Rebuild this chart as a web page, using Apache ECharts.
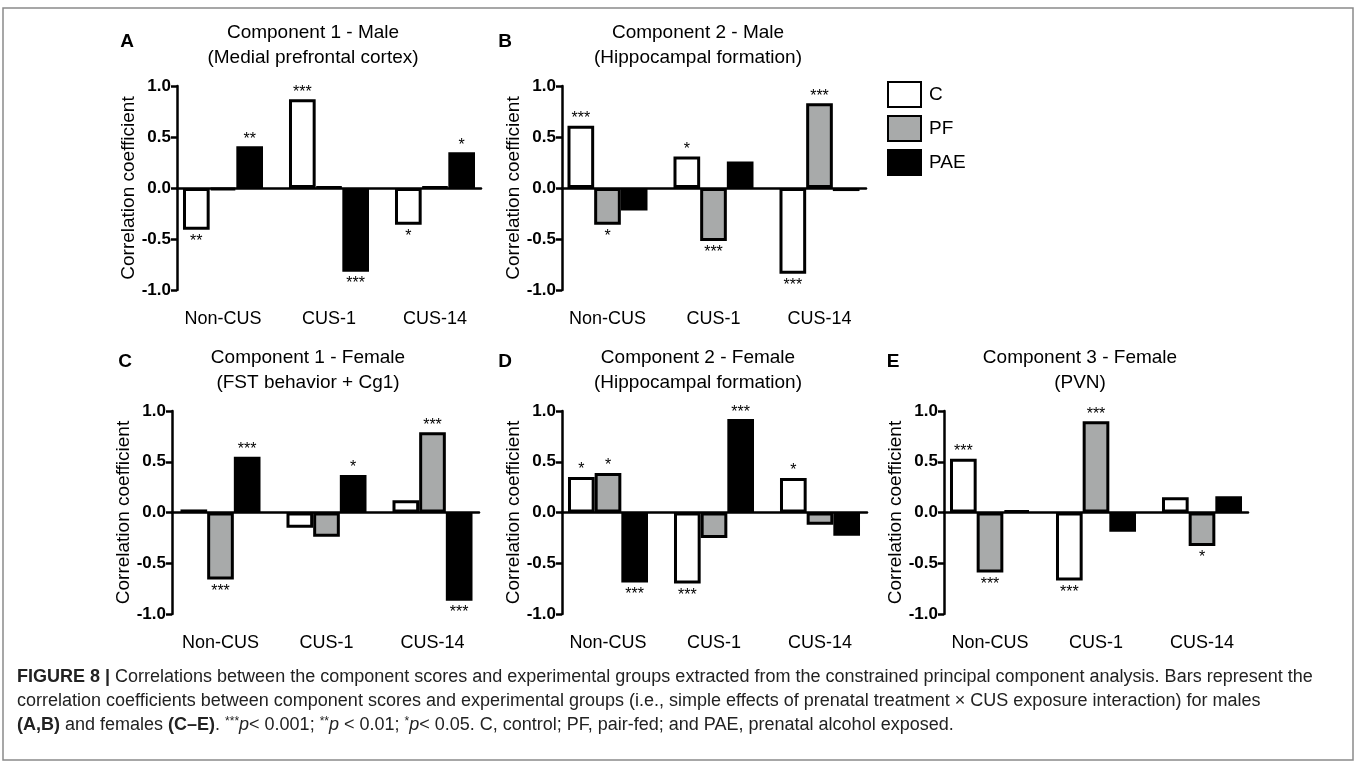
<!DOCTYPE html>
<html>
<head>
<meta charset="utf-8">
<script src="https://cdn.jsdelivr.net/npm/echarts@6/dist/echarts.min.js"></script>
<style>
  html, body { margin: 0; padding: 0; background: #fff; }
  #fig { width: 1357px; height: 769px; }
</style>
</head>
<body>
<div id="fig"></div>
<script>
  // groups on the x axis, series in the legend
  var groups = ['Non-CUS', 'CUS-1', 'CUS-14'];
  var seriesNames = ['C', 'PF', 'PAE'];
  var yMin = -1, yMax = 1, yStep = 0.5;

  // A - Component 1 - Male
  var aC = [-0.41, 0.87, -0.36];
  var aPF = [-0.02, 0.01, 0.01];
  var aPAE = [0.41, -0.82, 0.35];
  var aStarC = ['**', '***', '*'];
  var aStarPF = ['', '', ''];
  var aStarPAE = ['**', '***', '*'];

  // B - Component 2 - Male
  var bC = [0.61, 0.31, -0.84];
  var bPF = [-0.36, -0.52, 0.83];
  var bPAE = [-0.22, 0.26, -0.03];
  var bStarC = ['***', '*', '***'];
  var bStarPF = ['*', '***', '***'];
  var bStarPAE = ['', '', ''];

  // C - Component 1 - Female
  var cC = [0.03, -0.15, 0.12];
  var cPF = [-0.66, -0.24, 0.79];
  var cPAE = [0.55, 0.37, -0.87];
  var cStarC = ['', '', ''];
  var cStarPF = ['***', '', '***'];
  var cStarPAE = ['***', '*', '***'];

  // D - Component 2 - Female
  var dC = [0.35, -0.70, 0.34];
  var dPF = [0.39, -0.25, -0.12];
  var dPAE = [-0.69, 0.92, -0.23];
  var dStarC = ['*', '***', '*'];
  var dStarPF = ['*', '', ''];
  var dStarPAE = ['***', '***', ''];

  // E - Component 3 - Female
  var eC = [0.53, -0.67, 0.15];
  var ePF = [-0.59, 0.90, -0.33];
  var ePAE = [0.02, -0.19, 0.16];
  var eStarC = ['***', '***', ''];
  var eStarPF = ['***', '***', '*'];
  var eStarPAE = ['', '', ''];

  var fills = { C: '#ffffff', PF: '#a8aaaa', PAE: '#000000' };
  var FONT = '"Liberation Sans", Arial, sans-serif';

  // layout of each panel (pixels)
  var panels = [
    { letter: 'A', lx: 127, ly: 42, title: ['Component 1 - Male', '(Medial prefrontal cortex)'], ty: 33,
      axisLeft: 177, axisW: 304, barsLeft: 170, top: 86, h: 204, nameGap: 31,
      vals: [aC, aPF, aPAE], stars: [aStarC, aStarPF, aStarPAE] },
    { letter: 'B', lx: 505, ly: 42, title: ['Component 2 - Male', '(Hippocampal formation)'], ty: 33,
      axisLeft: 562, axisW: 304, barsLeft: 554.5, top: 86, h: 204, nameGap: 33,
      vals: [bC, bPF, bPAE], stars: [bStarC, bStarPF, bStarPAE] },
    { letter: 'C', lx: 125, ly: 362, title: ['Component 1 - Female', '(FST behavior + Cg1)'], ty: 358,
      axisLeft: 172, axisW: 307, barsLeft: 167.5, top: 411, h: 203, nameGap: 34,
      vals: [cC, cPF, cPAE], stars: [cStarC, cStarPF, cStarPAE] },
    { letter: 'D', lx: 505, ly: 362, title: ['Component 2 - Female', '(Hippocampal formation)'], ty: 358,
      axisLeft: 562, axisW: 305, barsLeft: 555, top: 411, h: 203, nameGap: 33,
      vals: [dC, dPF, dPAE], stars: [dStarC, dStarPF, dStarPAE] },
    { letter: 'E', lx: 893, ly: 362, title: ['Component 3 - Female', '(PVN)'], ty: 358,
      axisLeft: 944, axisW: 304, barsLeft: 937, top: 411, h: 203, nameGap: 33,
      vals: [eC, ePF, ePAE], stars: [eStarC, eStarPF, eStarPAE] }
  ];
  var bandW = 106;

  var grid = [], xAxis = [], yAxis = [], series = [], graphic = [];

  panels.forEach(function (p, k) {
    var ga = 2 * k, gb = 2 * k + 1;
    // grid holding the axis lines
    grid.push({ left: p.axisLeft, top: p.top, width: p.axisW, height: p.h });
    // grid holding the bars
    grid.push({ left: p.barsLeft, top: p.top, width: bandW * 3, height: p.h });

    xAxis.push({
      gridIndex: ga, type: 'value', min: 0, max: 1,
      axisLine: { show: true, onZero: true, lineStyle: { color: '#000', width: 2.5 } },
      axisTick: { show: false }, axisLabel: { show: false }, splitLine: { show: false }
    });
    yAxis.push({
      gridIndex: ga, type: 'value', min: yMin, max: yMax, interval: yStep,
      name: 'Correlation coefficient', nameLocation: 'middle', nameGap: p.nameGap,
      nameTextStyle: { fontFamily: FONT, fontSize: 19, color: '#000' },
      axisLine: { show: true, lineStyle: { color: '#000', width: 2.5 } },
      axisTick: { show: true, length: 6, lineStyle: { color: '#000', width: 2.5 } },
      axisLabel: { margin: 6, fontFamily: FONT, fontSize: 17, fontWeight: 'bold', color: '#000',
        formatter: function (v) { return v.toFixed(1); } },
      splitLine: { show: false }
    });

    xAxis.push({
      gridIndex: gb, type: 'category', data: groups,
      axisLine: { show: false, onZero: false }, axisTick: { show: false },
      axisLabel: { margin: 20, fontFamily: FONT, fontSize: 18, color: '#000' }
    });
    yAxis.push({ gridIndex: gb, type: 'value', min: yMin, max: yMax, show: false });

    seriesNames.forEach(function (name, s) {
      series.push({
        name: name, type: 'bar', xAxisIndex: gb, yAxisIndex: gb,
        barWidth: bandW * 0.2516, barGap: '0%',
        itemStyle: { color: fills[name], borderColor: '#000', borderWidth: 3 },
        label: { color: '#000', fontFamily: FONT, fontSize: 16 },
        data: p.vals[s].map(function (v, i) {
          var st = p.stars[s][i];
          return {
            value: v,
            label: { show: st !== '', formatter: st, position: v >= 0 ? 'top' : 'bottom', distance: v >= 0 ? -1 : 4 }
          };
        })
      });
    });

    var cx = p.axisLeft + 136;
    graphic.push({ type: 'text', x: p.lx, y: p.ly,
      style: { text: p.letter, font: 'bold 19px ' + FONT, fill: '#000', align: 'center', verticalAlign: 'middle' } });
    p.title.forEach(function (t, j) {
      graphic.push({ type: 'text', x: cx, y: p.ty + j * 25,
        style: { text: t, font: '19px ' + FONT, fill: '#000', align: 'center', verticalAlign: 'middle' } });
    });
  });

  // figure frame
  graphic.push({ type: 'rect', shape: { x: 3, y: 8, width: 1350, height: 752 },
    style: { fill: null, stroke: '#8a8a8a', lineWidth: 1.5 }, z: -1 });

  // caption
  var capFont = '18px ' + FONT, capBold = 'bold 18px ' + FONT;
  var capRich = {
    b: { font: capBold, fill: '#222' },
    i: { font: 'italic 18px ' + FONT, fill: '#222' },
    s: { font: '12px ' + FONT, fill: '#222', verticalAlign: 'top' }
  };
  var captionLines = [
    '{b|FIGURE 8 |} Correlations between the component scores and experimental groups extracted from the constrained principal component analysis. Bars represent the',
    'correlation coefficients between component scores and experimental groups (i.e., simple effects of prenatal treatment \u00d7 CUS exposure interaction) for males',
    '{b|(A,B)} and females {b|(C\u2013E)}. {s|***}{i|p}< 0.001; {s|**}{i|p} < 0.01; {s|*}{i|p}< 0.05. C, control; PF, pair-fed; and PAE, prenatal alcohol exposed.'
  ];
  captionLines.forEach(function (t, j) {
    graphic.push({ type: 'text', x: 17, y: 677 + j * 24,
      style: { text: t, font: capFont, fill: '#222', verticalAlign: 'middle', rich: capRich } });
  });

  var chart = echarts.init(document.getElementById('fig'), null, { renderer: 'canvas' });
  chart.setOption({
    backgroundColor: '#fff',
    animation: false,
    legend: {
      data: seriesNames, orient: 'vertical', left: 887, top: 81,
      itemWidth: 33, itemHeight: 25, itemGap: 7, padding: 0, selectedMode: false,
      icon: 'rect',
      textStyle: { fontFamily: FONT, fontSize: 19, color: '#000', padding: [0, 0, 0, 3] }
    },
    grid: grid, xAxis: xAxis, yAxis: yAxis, series: series, graphic: graphic
  });
</script>
</body>
</html>
